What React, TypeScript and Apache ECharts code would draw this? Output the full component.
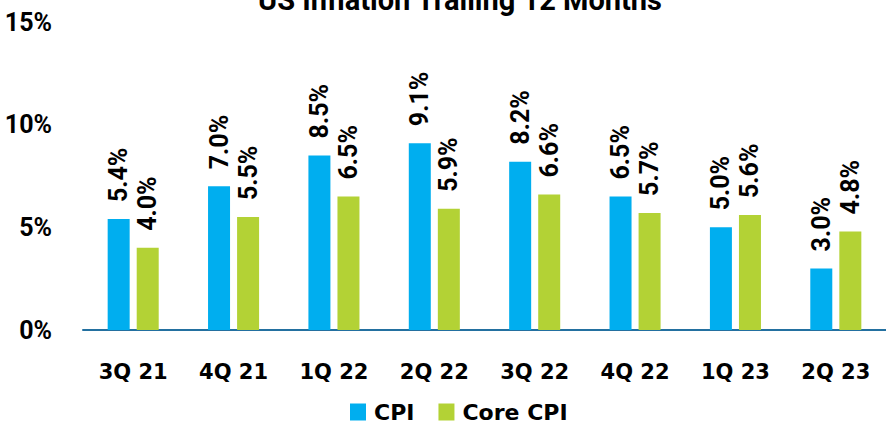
import React, { useEffect, useRef } from "react";
import * as echarts from "echarts";

const categories = ["3Q 21", "4Q 21", "1Q 22", "2Q 22", "3Q 22", "4Q 22", "1Q 23", "2Q 23"];
const cpi = [5.4, 7.0, 8.5, 9.1, 8.2, 6.5, 5.0, 3.0];
const coreCpi = [4.0, 5.5, 6.5, 5.9, 6.6, 5.7, 5.6, 4.8];
const seriesNames = ["CPI", "Core CPI"];
const titleText = "US Inflation Trailing 12 Months";

export default function App() {
  const ref = useRef<HTMLDivElement>(null);
  useEffect(() => {
    if (!ref.current) return;
    const chart = echarts.init(ref.current, null, { renderer: "svg" });
    const barLabel = {
      show: true,
      position: "top" as const,
      rotate: 90,
      align: "left" as const,
      verticalAlign: "middle" as const,
      distance: 15,
      offset: [2, 0],
      formatter: (p: any) => p.value.toFixed(1) + "%",
      fontFamily: "Roboto",
      fontWeight: "bold" as const,
      fontSize: 25,
      color: "#000",
    };
    chart.setOption({
      animation: false,
      title: {
        text: titleText,
        left: 460,
        textAlign: "center",
        top: -15,
        padding: 0,
        textStyle: { fontFamily: "Roboto", fontWeight: "bold", fontSize: 29, color: "#000" },
      },
      legend: {
        data: seriesNames,
        left: 350,
        top: 401,
        padding: 0,
        icon: "rect",
        itemWidth: 16,
        itemHeight: 17,
        itemGap: 24,
        textStyle: { fontFamily: "DejaVu Sans", fontWeight: "bold", fontSize: 22, color: "#000", padding: [0, 0, 0, 3] },
      },
      grid: { left: 83, top: 22, width: 810, height: 308, containLabel: false },
      xAxis: {
        type: "category",
        data: categories,
        axisLine: { show: true, lineStyle: { color: "#2370A0", width: 2 } },
        axisTick: { show: false },
        axisLabel: {
          margin: 31,
          fontFamily: "DejaVu Sans",
          fontWeight: "bold",
          fontSize: 21,
          color: "#000",
        },
      },
      yAxis: {
        type: "value",
        min: 0,
        max: 15,
        interval: 5,
        splitLine: { show: false },
        axisLine: { show: false },
        axisTick: { show: false },
        axisLabel: {
          formatter: "{value}%",
          margin: 31,
          fontFamily: "Roboto",
          fontWeight: "bold",
          fontSize: 25,
          color: "#000",
        },
      },
      series: [
        {
          name: seriesNames[0],
          type: "bar",
          data: cpi,
          barWidth: 22,
          barGap: "32%",
          itemStyle: { color: "#00AEEF" },
          label: barLabel,
        },
        {
          name: seriesNames[1],
          type: "bar",
          data: coreCpi,
          barWidth: 22,
          itemStyle: { color: "#B3D235" },
          label: barLabel,
        },
      ],
    });
    return () => chart.dispose();
  }, []);
  return <div ref={ref} style={{ width: 886, height: 426, position: "absolute", left: 0, top: 0 }} />;
}
